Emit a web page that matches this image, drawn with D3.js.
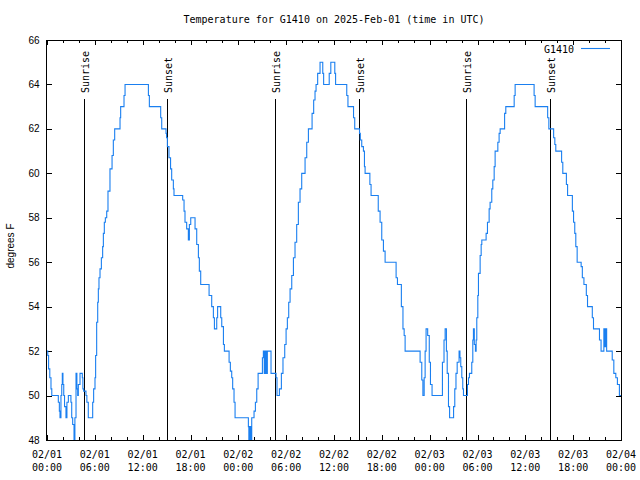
<!DOCTYPE html>
<html>
<head>
<meta charset="utf-8">
<script src="https://cdn.jsdelivr.net/npm/d3@7"></script>
<style>
  html, body { margin: 0; padding: 0; background: #fff; }
  svg { display: block; }
  .mono { font-family: "DejaVu Sans Mono", "Liberation Mono", monospace; font-size: 10px; fill: #000; }
  .sans { font-family: "Liberation Sans", Arial, sans-serif; font-size: 10px; fill: #000; }
</style>
</head>
<body>
<script>
// ---- data ----
const titleText = "Temperature for G1410 on 2025-Feb-01 (time in UTC)";
const yLabel = "degrees F";
const seriesName = "G1410";

// [hours since 2025-02-01 00:00 UTC, degrees F] (step-after readings)
const day1 = [
  [0, 52], [0.1, 51.8], [0.2, 51.2], [0.35, 50.8], [0.5, 50.3], [0.6, 50], [1.42, 49.7], [1.55, 49.3],
  [1.63, 49], [1.75, 50], [1.85, 50.5], [1.92, 51], [2.0, 50.5], [2.1, 50], [2.2, 49.5], [2.38, 49],
  [2.5, 49.7], [2.68, 50], [3.0, 49.7], [3.1, 49], [3.22, 48.7], [3.39, 48], [3.5, 49], [3.64, 51],
  [3.75, 50.3], [3.85, 50], [3.93, 50.5], [4.14, 51], [4.43, 50.8], [4.5, 50.3], [4.6, 50.2], [4.89, 50],
  [5.0, 49.7], [5.18, 49], [5.73, 49.7], [5.85, 50.3], [6.02, 50.8], [6.1, 51.8], [6.23, 53.3], [6.36, 54.2],
  [6.44, 54.8], [6.52, 55.3], [6.65, 55.7], [6.82, 56.2], [6.98, 56.7], [7.07, 57.3], [7.19, 57.8], [7.32, 58],
  [7.49, 58.3], [7.65, 59.2], [7.9, 60.2], [8.16, 60.8], [8.32, 61.5], [8.49, 62], [9.16, 62.5], [9.24, 63],
  [9.66, 63.5], [9.79, 64], [12.72, 63.5], [12.84, 63], [14.26, 62.5], [14.39, 62], [14.93, 61.8], [15.0, 61.6],
  [15.1, 61.2], [15.3, 60.7], [15.5, 60.2], [15.64, 59.7], [15.85, 59.3], [15.93, 59], [17.02, 58.8], [17.19, 58.3],
  [17.31, 57.8], [17.52, 57.5], [17.73, 57.0], [17.86, 57.7], [18.03, 58], [18.57, 57.5], [18.78, 56.8], [18.99, 56.2],
  [19.11, 55.6], [19.28, 55], [20.33, 54.5], [20.66, 54], [20.87, 53.5], [21.0, 53], [21.29, 53.5], [21.4, 54],
  [21.79, 53.5], [21.92, 53.1], [22.13, 52.3], [22.25, 52], [22.84, 51.5], [23.0, 51.1], [23.17, 50.8], [23.29, 50.3],
  [23.46, 49.7], [23.59, 49]
];
const day2 = [
  [25.26, 48.6], [25.32, 48], [25.42, 48.6], [25.55, 48], [25.68, 49], [25.97, 49.3], [26.14, 49.7], [26.31, 50.3],
  [26.48, 51], [27.02, 51.7], [27.14, 52], [27.25, 51], [27.39, 52], [27.5, 51], [27.64, 52], [28.1, 51],
  [28.73, 50.8], [28.85, 50], [29.15, 50.3], [29.4, 51], [29.6, 51.7], [29.82, 52.3], [29.99, 53], [30.15, 53.5],
  [30.32, 54.2], [30.49, 54.8], [30.7, 55.4], [30.91, 56.2], [31.11, 56.9], [31.32, 57.7], [31.53, 58.7], [31.74, 59.3],
  [31.95, 60], [32.37, 60.7], [32.58, 61.4], [32.79, 62], [33.25, 62.7], [33.45, 63.3], [33.62, 63.7], [33.75, 64],
  [33.95, 64.5], [34.25, 65], [34.59, 64.5], [34.7, 64], [35.4, 64.5], [35.6, 65], [36.1, 64.5], [36.2, 64],
  [37.6, 63.5], [37.75, 63], [38.45, 62.5], [38.6, 62], [39.2, 61.8], [39.3, 61.5], [39.48, 61.2], [39.69, 61],
  [39.82, 60.3], [39.9, 60], [40.5, 59.5], [40.65, 59], [41.55, 58.3], [41.78, 57.8], [41.99, 57], [42.2, 56.5],
  [42.41, 56], [43.79, 55.3], [43.96, 55], [44.45, 54], [44.65, 53], [44.8, 52.7], [44.92, 52], [46.8, 51.5],
  [47.01, 50.7], [47.15, 50], [47.31, 50.8], [47.43, 52], [47.55, 53], [47.75, 52.7], [47.95, 51.5], [48.1, 50.5],
  [48.3, 50]
];
const day3 = [
  [49.6, 51.5], [49.8, 52.5], [49.94, 53], [50.1, 52], [50.2, 51], [50.36, 49.5], [50.5, 49], [51.0, 49.5],
  [51.15, 50.3], [51.3, 51], [51.45, 51.5], [51.69, 52], [51.8, 51.7], [51.9, 51.3], [52.03, 50.8], [52.15, 50.3],
  [52.24, 50], [52.74, 50.5], [52.87, 50.8], [52.99, 51], [53.28, 51.5], [53.41, 52.5], [53.49, 53], [53.6, 52.3],
  [53.74, 52], [53.83, 52.5], [53.91, 53.5], [54.04, 54.5], [54.12, 55.5], [54.33, 56.3], [54.46, 56.8], [54.54, 57],
  [55.08, 57.3], [55.25, 57.8], [55.46, 58.4], [55.58, 58.7], [55.79, 59.3], [55.92, 59.7], [56.09, 60.3], [56.21, 61],
  [56.55, 61.4], [56.71, 61.8], [56.84, 62], [57.4, 62.7], [57.55, 63], [58.6, 63.5], [58.72, 64], [61.1, 63.5],
  [61.23, 63], [62.8, 62.5], [62.95, 62], [63.55, 61.6], [63.7, 61.3], [63.82, 61], [64.55, 60.5], [64.7, 60],
  [65.15, 59.5], [65.3, 59], [65.9, 58.3], [66.05, 57.8], [66.2, 57.3], [66.33, 56.7], [66.5, 56], [67.0, 55.8],
  [67.15, 55.3], [67.35, 55], [67.65, 54.5], [67.8, 54], [68.4, 53.5], [68.55, 53], [69.3, 52.5], [69.5, 52],
  [69.85, 53], [69.97, 52.2], [70.08, 53], [70.2, 52], [70.9, 51.6], [71.1, 51], [71.35, 50.8], [71.55, 50.5],
  [71.8, 50], [72, 50]
];

const sunriseHours = [4.58, 28.62, 52.55];
const sunsetHours = [15.1, 39.15, 63.1];

const majorTickHours = [0, 6, 12, 18, 24, 30, 36, 42, 48, 54, 60, 66, 72];
const tickDates = ["02/01", "02/01", "02/01", "02/01", "02/02", "02/02", "02/02", "02/02", "02/03", "02/03", "02/03", "02/03", "02/04"];
const tickTimes = ["00:00", "06:00", "12:00", "18:00", "00:00", "06:00", "12:00", "18:00", "00:00", "06:00", "12:00", "18:00", "00:00"];
const minorTickHours = d3.range(0, 73, 2).filter(h => h % 6 !== 0);
const yTicks = [48, 50, 52, 54, 56, 58, 60, 62, 64, 66];

// ---- chart ----
const W = 640, H = 480;
const m = { left: 47, right: 19, top: 40, bottom: 40 };
const x = d3.scaleLinear().domain([0, 72]).range([m.left, W - m.right]);
const y = d3.scaleLinear().domain([48, 66]).range([H - m.bottom, m.top]);

const svg = d3.select("body").append("svg").attr("width", W).attr("height", H);

svg.append("defs").append("clipPath").attr("id", "clip")
  .append("rect").attr("x", m.left).attr("y", m.top)
  .attr("width", x(72) - m.left).attr("height", y(48) - m.top);

// title
svg.append("text").attr("class", "mono")
  .attr("x", (x(0) + x(72)) / 2).attr("y", 23)
  .attr("text-anchor", "middle").text(titleText);

// axes
const bottomY = y(48), topY = y(66);
svg.append("g").attr("transform", `translate(0,${bottomY})`)
  .call(d3.axisBottom(x).tickValues(majorTickHours).tickSize(-5).tickFormat(""))
  .call(g => g.select(".domain").remove());
svg.append("g").attr("transform", `translate(0,${bottomY})`)
  .call(d3.axisBottom(x).tickValues(minorTickHours).tickSize(-3).tickFormat(""))
  .call(g => g.select(".domain").remove());
svg.append("g").attr("transform", `translate(0,${topY})`)
  .call(d3.axisTop(x).tickValues(majorTickHours).tickSize(-5).tickFormat(""))
  .call(g => g.select(".domain").remove());
svg.append("g").attr("transform", `translate(0,${topY})`)
  .call(d3.axisTop(x).tickValues(minorTickHours).tickSize(-3).tickFormat(""))
  .call(g => g.select(".domain").remove());
svg.append("g").attr("transform", `translate(${x(0)},0)`)
  .call(d3.axisLeft(y).tickValues(yTicks).tickSize(-5).tickFormat(""))
  .call(g => g.select(".domain").remove());
svg.append("g").attr("transform", `translate(${x(72)},0)`)
  .call(d3.axisRight(y).tickValues(yTicks).tickSize(-5).tickFormat(""))
  .call(g => g.select(".domain").remove());
svg.selectAll(".tick line").attr("stroke", "#000").attr("shape-rendering", "crispEdges");

// tick labels
const xl = svg.append("g");
majorTickHours.forEach((h, i) => {
  const t = xl.append("text").attr("class", "mono").attr("text-anchor", "middle");
  t.append("tspan").attr("x", x(h)).attr("y", 458).text(tickDates[i]);
  t.append("tspan").attr("x", x(h)).attr("y", 470.5).text(tickTimes[i]);
});
svg.append("g").selectAll("text").data(yTicks).join("text")
  .attr("class", "sans").attr("text-anchor", "end")
  .attr("x", 39.5).attr("y", d => y(d) + 3.5).text(d => d);

svg.append("text").attr("class", "sans").attr("text-anchor", "middle")
  .attr("transform", `translate(14,246) rotate(-90)`).text(yLabel);

// sunrise/sunset
const events = sunriseHours.map(h => ({ h, label: "Sunrise" }))
  .concat(sunsetHours.map(h => ({ h, label: "Sunset" })));
const ev = svg.append("g");
events.forEach(e => {
  const xx = Math.round(x(e.h)) + 0.5;
  ev.append("line").attr("x1", xx).attr("x2", xx).attr("y1", 99).attr("y2", bottomY)
    .attr("stroke", "#000").attr("stroke-width", 1);
  ev.append("text").attr("class", "mono").attr("text-anchor", "start")
    .attr("transform", `translate(${xx + 4},93) rotate(-90)`).text(e.label);
});

// data line
const pts = day1.concat(day2, day3);
const line = d3.line().x(d => x(d[0])).y(d => y(d[1])).curve(d3.curveStepAfter);
svg.append("path").datum(pts).attr("clip-path", "url(#clip)")
  .attr("fill", "none").attr("stroke", "#1a7ff0").attr("stroke-width", 1.1)
  .attr("d", line);

// legend
svg.append("text").attr("class", "mono").attr("text-anchor", "end")
  .attr("x", 574).attr("y", 53).text(seriesName);
svg.append("line").attr("x1", 581).attr("x2", 610).attr("y1", 48.5).attr("y2", 48.5)
  .attr("stroke", "#1a7ff0").attr("stroke-width", 1.1);

// border
svg.append("rect").attr("x", x(0) - 0.5).attr("y", topY + 0.5)
  .attr("width", x(72) - x(0) + 1).attr("height", bottomY - topY)
  .attr("fill", "none").attr("stroke", "#000").attr("stroke-width", 1)
  .attr("shape-rendering", "crispEdges");
</script>
</body>
</html>
